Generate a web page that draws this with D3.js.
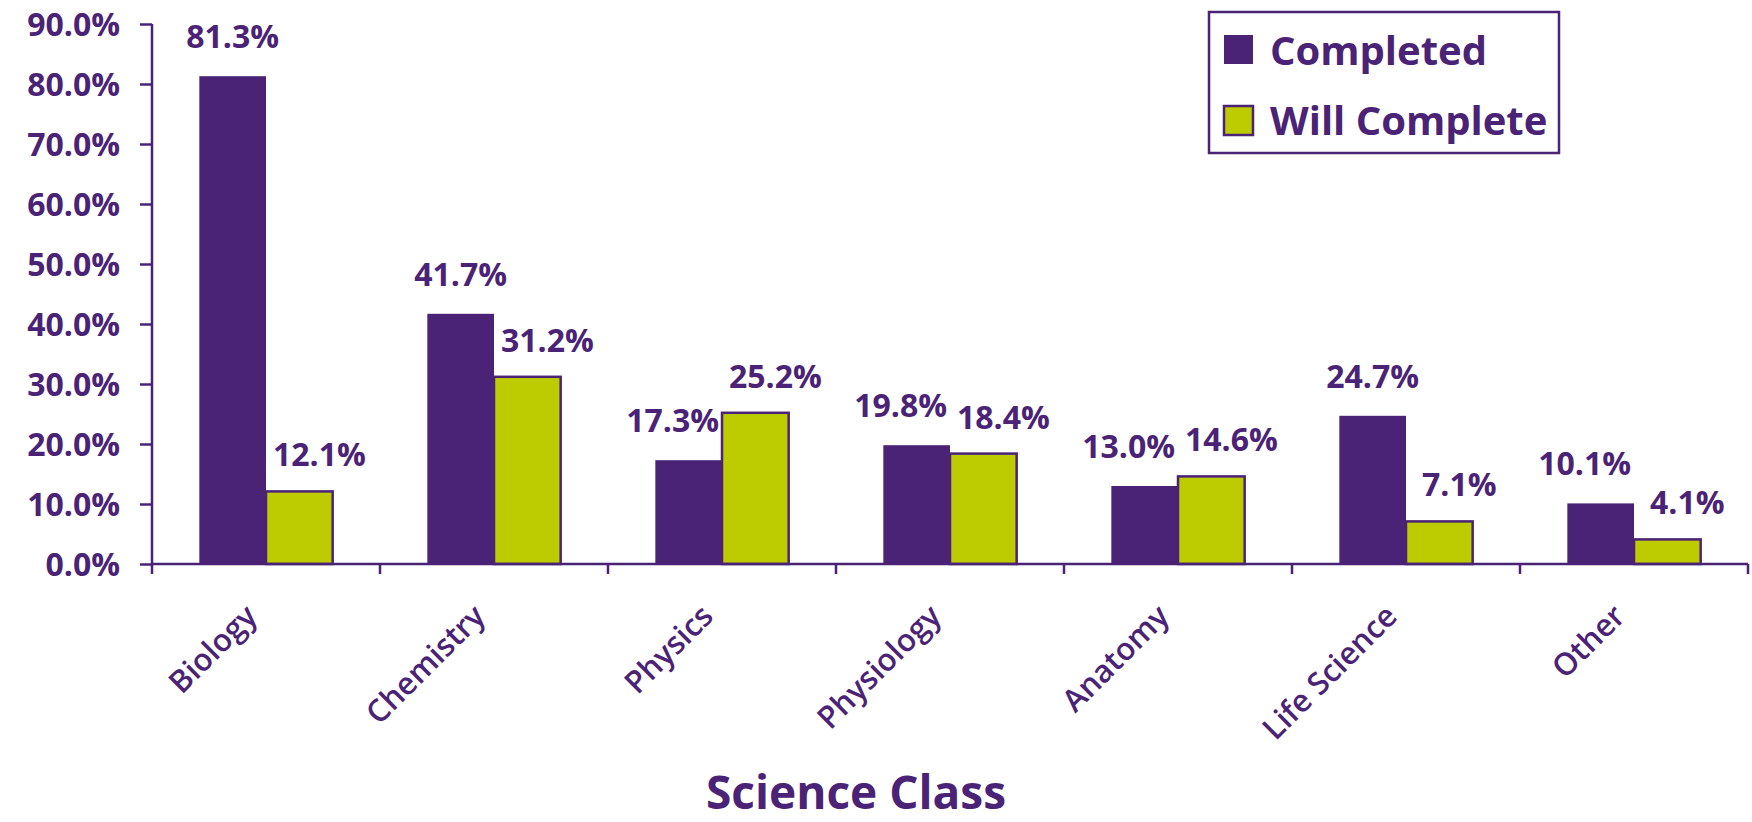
<!DOCTYPE html>
<html lang="en">
<head>
<meta charset="UTF-8">
<title>Science Class</title>
<script src="https://d3js.org/d3.v7.min.js"></script>
<style>
  body { margin: 0; background: #fff; }
  text { font-family: "Open Sans", sans-serif; fill: #4a2377; }
</style>
</head>
<body>
<script>
// data
var categories = ["Biology", "Chemistry", "Physics", "Physiology", "Anatomy", "Life Science", "Other"];
var series = ["Completed", "Will Complete"];
var completed = [81.3, 41.7, 17.3, 19.8, 13.0, 24.7, 10.1];
var willComplete = [12.1, 31.2, 25.2, 18.4, 14.6, 7.1, 4.1];
var yTicks = [0, 10, 20, 30, 40, 50, 60, 70, 80, 90];

var purple = "#4a2377", lime = "#bccc00";
var width = 1752, height = 822;
var margin = { top: 24, right: 4, bottom: 258, left: 152 };

var svg = d3.select("body").append("svg")
    .attr("width", width)
    .attr("height", height);

var x0 = d3.scaleBand()
    .domain(categories)
    .range([margin.left, width - margin.right])
    .padding(0);

var x1 = d3.scaleBand()
    .domain(series)
    .range([0, x0.bandwidth()])
    .paddingInner(0)
    .paddingOuter(0.71);

var y = d3.scaleLinear()
    .domain([0, 90])
    .range([height - margin.bottom, margin.top]);

var rows = categories.map(function (c, i) {
    return { cat: c, vals: [completed[i], willComplete[i]] };
});

// bars
var groups = svg.selectAll("g.grp")
    .data(rows)
    .enter().append("g")
    .attr("class", "grp")
    .attr("transform", d => "translate(" + x0(d.cat) + ",0)");

groups.selectAll("rect")
    .data(d => d.vals.map((v, j) => ({ s: series[j], v: v })))
    .enter().append("rect")
    .attr("x", d => x1(d.s))
    .attr("y", d => y(d.v))
    .attr("width", x1.bandwidth())
    .attr("height", d => y(0) - y(d.v))
    .attr("fill", d => d.s === "Completed" ? purple : lime)
    .attr("stroke", purple)
    .attr("stroke-width", d => d.s === "Completed" ? 0 : 2.5);

// value labels (nudged apart when the pair is close in height)
groups.each(function (d) {
    var g = d3.select(this);
    var close = Math.abs(d.vals[0] - d.vals[1]) < 8;
    d.vals.forEach(function (v, j) {
        var dx = j === 1 ? 20 : (close ? -16 : 0);
        g.append("text")
            .attr("x", x1(series[j]) + x1.bandwidth() / 2 + dx)
            .attr("y", y(v) - (j === 0 ? 28 : 25))
            .attr("text-anchor", "middle")
            .style("font-size", "32px")
            .style("font-weight", 700)
            .text(v.toFixed(1) + "%");
    });
});

// y axis
var yAxis = svg.append("g")
    .attr("transform", "translate(" + margin.left + ",0)")
    .call(d3.axisLeft(y).tickValues(yTicks).tickSize(12).tickPadding(20)
        .tickFormat(d => d.toFixed(1) + "%"));
yAxis.select(".domain").remove();
yAxis.append("line")
    .attr("x1", 0).attr("x2", 0)
    .attr("y1", y(90)).attr("y2", y(0) + 10)
    .attr("stroke", purple).attr("stroke-width", 2.5);
yAxis.selectAll(".tick line").attr("stroke", purple).attr("stroke-width", 2.5);
yAxis.selectAll(".tick text")
    .attr("fill", purple)
    .attr("dy", "0.36em")
    .style("font-size", "32px")
    .style("font-weight", 700)
    .style("font-family", "'Open Sans', sans-serif");

// x axis
var xAxisG = svg.append("g").attr("transform", "translate(0," + y(0) + ")");
xAxisG.append("line")
    .attr("x1", margin.left).attr("x2", width - margin.right)
    .attr("stroke", purple).attr("stroke-width", 2.5);
xAxisG.selectAll("line.tk")
    .data(categories.slice(1).concat(["end"]))
    .enter().append("line")
    .attr("class", "tk")
    .attr("x1", d => d === "end" ? width - margin.right : x0(d))
    .attr("x2", d => d === "end" ? width - margin.right : x0(d))
    .attr("y1", 0).attr("y2", 10)
    .attr("stroke", purple).attr("stroke-width", 2.5);

xAxisG.selectAll("text.cat")
    .data(categories)
    .enter().append("text")
    .attr("class", "cat")
    .attr("text-anchor", "end")
    .attr("transform", d => "translate(" + (x0(d) + x0.bandwidth() / 2 - 7) + ",54) rotate(-45)")
    .style("font-size", "31px")
    .style("font-weight", 600)
    .text(d => d);

// axis title
svg.append("text")
    .attr("x", 856)
    .attr("y", 809)
    .attr("text-anchor", "middle")
    .style("font-size", "46px")
    .style("font-weight", 700)
    .text("Science Class");

// legend
var legend = svg.append("g").attr("transform", "translate(1209,12)");
legend.append("rect")
    .attr("width", 350).attr("height", 141)
    .attr("fill", "#fff")
    .attr("stroke", purple).attr("stroke-width", 2.5);
series.forEach(function (s, i) {
    legend.append("rect")
        .attr("x", 15).attr("y", 23 + i * 71)
        .attr("width", 29).attr("height", 29)
        .attr("fill", i === 0 ? purple : lime)
        .attr("stroke", purple).attr("stroke-width", i === 0 ? 0 : 2.5);
    legend.append("text")
        .attr("x", 61).attr("y", 53 + i * 70)
        .style("font-size", "40px")
        .style("font-weight", 700)
        .text(s);
});
</script>
</body>
</html>
